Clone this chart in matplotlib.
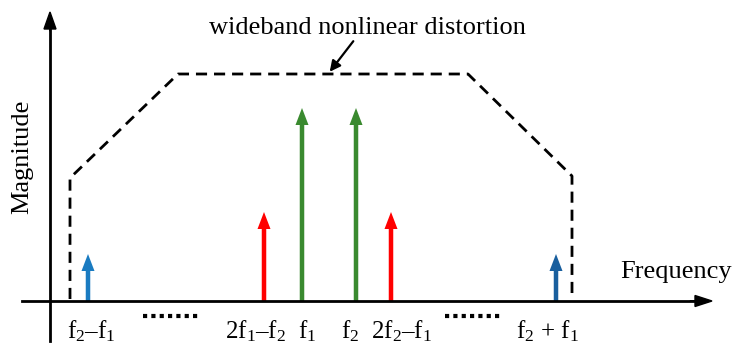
import matplotlib.pyplot as plt

plt.rcParams['font.family'] = ['Liberation Serif', 'DejaVu Serif']
plt.rcParams['mathtext.fontset'] = 'custom'
plt.rcParams['mathtext.rm'] = 'Liberation Serif'
plt.rcParams['mathtext.it'] = 'Liberation Serif:italic'

# spectral lines (x position along frequency axis, magnitude)
tone_pos = [88, 264, 302, 356, 391, 556]
tone_mag = [47, 89, 193, 193, 89, 47]
tone_col = ['#1a7bc1', '#ff0000', '#3a8a2f', '#3a8a2f', '#ff0000', '#195f9e']
tone_lbl = ['f$_2$–f$_1$', '2f$_1$–f$_2$', 'f$_1$', 'f$_2$', '2f$_2$–f$_1$', 'f$_2$ + f$_1$']
lbl_pos = [91, 256, 307, 350, 402, 547]

# distortion envelope
env_x = [70, 70, 178, 468, 572, 572]
env_y = [2, 123, 227, 227, 125, 2]

# dotted "more terms" markers
dots_x = [(143, 200), (445, 502)]

fig = plt.figure(figsize=(7.34, 3.49), dpi=100)
ax = fig.add_axes([0, 0, 1, 1])
ax.set_xlim(0, 734)
ax.set_ylim(-48, 301)
ax.axis('off')

# axes with arrows
ax.plot([50, 50], [-40, 275], color='k', lw=2)
ax.arrow(50, 270, 0, 19, width=0.1, head_width=12, head_length=17,
         length_includes_head=True, color='k')
ax.plot([22, 698], [0, 0], color='k', lw=2)
ax.arrow(690, 0, 22, 0, width=0.1, head_width=11, head_length=17,
         length_includes_head=True, color='k')

ax.plot(env_x, env_y, color='k', lw=2, ls=(0, (4, 2.5)))

for x, h, c in zip(tone_pos, tone_mag, tone_col):
    ax.arrow(x, 0, 0, h, width=4.5, head_width=13, head_length=17,
             length_includes_head=True, color=c, lw=0)

for x0, x1 in dots_x:
    ax.plot([x0, x1], [-15, -15], color='k', lw=3, ls=(0, (1, 1)))

for x, s in zip(lbl_pos, tone_lbl):
    ax.text(x, -30, s, ha='center', va='center', fontsize=18)

ax.text(676, 29, 'Frequency', ha='center', va='center', fontsize=19)
ax.text(22, 144, 'Magnitude', ha='center', va='center', fontsize=19, rotation=90)
ax.text(367, 273, 'wideband nonlinear distortion', ha='center', va='center', fontsize=19)
ax.annotate('', xy=(328, 227), xytext=(355, 262),
            arrowprops=dict(arrowstyle='-|>', color='k', lw=1.6, mutation_scale=16))

fig.savefig('out.png', dpi=100)
